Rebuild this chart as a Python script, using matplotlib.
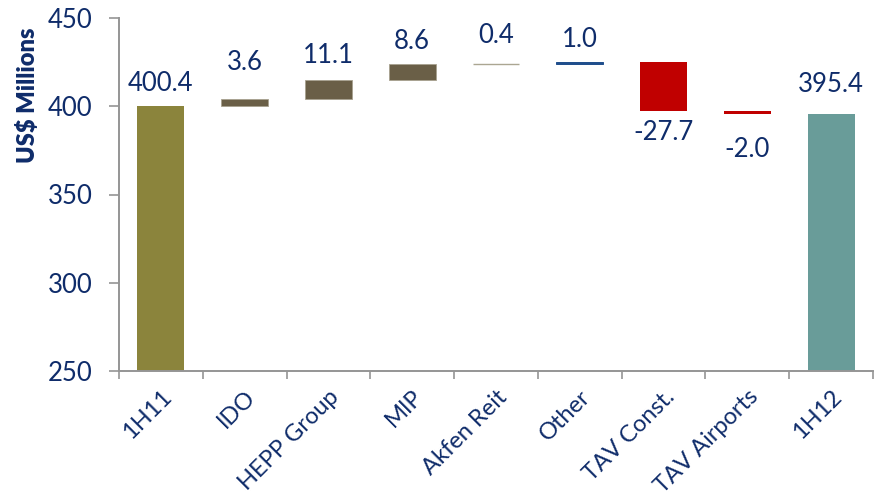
import numpy as np
import matplotlib
matplotlib.use("Agg")
import matplotlib.pyplot as plt

plt.rcParams["font.family"] = ["Lato", "DejaVu Sans"]

categories = ["1H11", "IDO", "HEPP Group", "MIP", "Akfen Reit", "Other",
              "TAV Const.", "TAV Airports", "1H12"]
start_value = 400.4
changes = [3.6, 11.1, 8.6, 0.4, 1.0, -27.7, -2.0]
end_value = 395.4
labels = ["400.4", "3.6", "11.1", "8.6", "0.4", "1.0", "-27.7", "-2.0", "395.4"]

# styling
colors = ["#8B843C", "#6A5F47", "#6A5F47", "#6A5F47", "#ABA692", "#1F4E8C",
          "#C00000", "#C00000", "#699C99"]
edges = [None, "#A8A28F", "#A8A28F", "#A8A28F", "#ABA692", "#1F4E8C", None, None, None]
label_gap_px = [22, 37, 24, 23, 28, 22, 22, 35, 30]
navy = "#0F2C6A"
grey = "#959595"

# waterfall geometry from the data
bottoms = [0]
heights = [start_value]
level = start_value
for c in changes:
    if c >= 0:
        bottoms.append(level)
        heights.append(c)
    else:
        bottoms.append(level + c)
        heights.append(-c)
    level += c
bottoms.append(0)
heights.append(end_value)

fig = plt.figure(figsize=(8.77, 5.03), dpi=100)
ax = fig.add_axes([119 / 877, 1 - 371 / 503, 754 / 877, 353 / 503])

x = np.arange(len(categories))
for i in range(len(categories)):
    if edges[i] is None:
        ax.bar(x[i], heights[i], bottom=bottoms[i], width=0.56, color=colors[i], linewidth=0)
    else:
        lw = {4: 1.0, 5: 0.7}.get(i, 0.6)
        ax.bar(x[i], heights[i], bottom=bottoms[i], width=0.56, color=colors[i],
               edgecolor=edges[i], linewidth=lw)

# value labels
all_vals = [start_value] + changes + [end_value]
for i in range(len(categories)):
    if all_vals[i] < 0:
        y = bottoms[i]
        off = -label_gap_px[i] * 0.72
    else:
        y = bottoms[i] + heights[i]
        off = label_gap_px[i] * 0.72
    ax.annotate(labels[i], (x[i], y), xytext=(0, off), textcoords="offset points",
                ha="center", va="center", fontsize=18.5, color=navy)

ax.set_xlim(-0.5, len(categories) - 0.5)
ax.set_ylim(250, 450)
ax.set_yticks([250, 300, 350, 400, 450])
ax.set_xticks(x)
ax.set_xticklabels(categories, rotation=45, ha="right", rotation_mode="anchor")
ax.set_xticks(np.arange(len(categories) + 1) - 0.5, minor=True)
ax.tick_params(axis="x", which="major", length=0, pad=11, labelsize=17, labelcolor=navy)
ax.tick_params(axis="x", which="minor", length=6, width=1.2, color=grey, direction="out")
ax.tick_params(axis="y", length=7, width=1.2, color=grey, labelsize=18.5, labelcolor=navy, pad=12)

for s in ["top", "right"]:
    ax.spines[s].set_visible(False)
for s in ["left", "bottom"]:
    ax.spines[s].set_color(grey)
    ax.spines[s].set_linewidth(1.4)

ax.set_ylabel("US$ Millions", fontsize=17, fontweight="heavy", color=navy)
ax.yaxis.set_label_coords(-0.106, 0.78)

fig.savefig("out.png", dpi=100)
